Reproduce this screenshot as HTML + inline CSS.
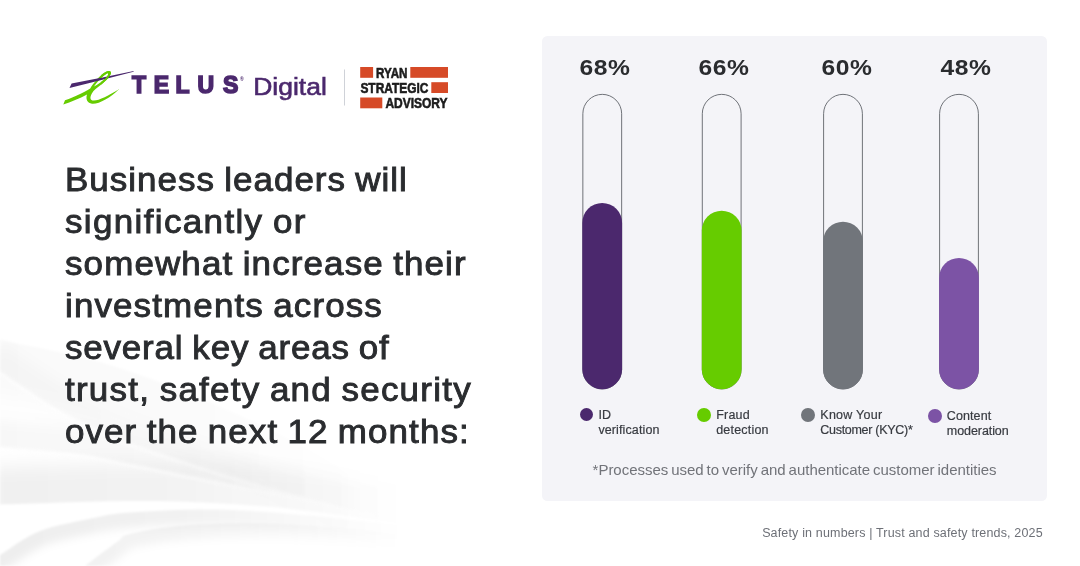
<!DOCTYPE html>
<html lang="en">
<head>
<meta charset="utf-8">
<title>Safety in numbers | Trust and safety trends, 2025</title>
<style>
  html, body { margin: 0; padding: 0; }
  body { width: 1080px; height: 566px; position: relative; overflow: hidden; background: #ffffff;
         font-family: "Liberation Sans", Arial, Helvetica, sans-serif; color: #2a2c2f; }
  .abs { position: absolute; }
  #bg { left: 0; top: 0; width: 1080px; height: 566px; filter: blur(0.8px); }
  #logos { left: 0; top: 0; width: 540px; height: 140px; }
  h1 { position: absolute; left: 65.3px; top: 159.4px; margin: 0; font-weight: 400; font-size: 33px; line-height: 42px;
       color: #2a2c2f; -webkit-text-stroke: 0.9px #2a2c2f; white-space: nowrap; }
  h1 span { display: block; height: 42px; transform: scaleX(1.06); transform-origin: 0 0; word-spacing: -1.4px; }
  #panel { left: 542px; top: 36px; width: 505px; height: 465px; background: #f4f4f8; border-radius: 5.5px; }
  .pct { position: absolute; top: 54.2px; width: 80px; text-align: center; font-weight: 700; font-size: 21.8px; line-height: 28px; color: #2a2c2f; letter-spacing: 0.5px; transform: scaleX(1.13); }
  .leg { position: absolute; font-size: 12.5px; line-height: 15px; color: #383b41; white-space: nowrap; -webkit-text-stroke: 0.2px #383b41; }
  .dot { position: absolute; width: 13.8px; height: 13.8px; border-radius: 50%; }
  #note { left: 592.6px; top: 460px; font-size: 15px; line-height: 20px; color: #717379; white-space: nowrap; letter-spacing: -0.02px; word-spacing: -1.2px; }
  #src { right: 37.2px; top: 524.4px; font-size: 12.5px; line-height: 18px; color: #6d7077; white-space: nowrap; letter-spacing: 0.16px; }
</style>
</head>
<body>
<svg id="bg" class="abs" viewBox="0 0 1080 566">
  <defs>
  <filter id="bl1" filterUnits="userSpaceOnUse" x="-60" y="250" width="700" height="400"><feGaussianBlur stdDeviation="1"/></filter>
  <filter id="bl4" filterUnits="userSpaceOnUse" x="-60" y="250" width="700" height="400"><feGaussianBlur stdDeviation="4"/></filter>
  <filter id="bl7" filterUnits="userSpaceOnUse" x="-60" y="250" width="700" height="400"><feGaussianBlur stdDeviation="7"/></filter>
  <filter id="bl9" filterUnits="userSpaceOnUse" x="-60" y="250" width="700" height="400"><feGaussianBlur stdDeviation="9"/></filter>
  <filter id="bl12" filterUnits="userSpaceOnUse" x="-60" y="250" width="700" height="400"><feGaussianBlur stdDeviation="12"/></filter>
  <linearGradient id="g_sB" gradientUnits="userSpaceOnUse" x1="0" y1="0" x2="370" y2="0"><stop offset="0" stop-color="#000" stop-opacity="0.022"/><stop offset="0.45" stop-color="#000" stop-opacity="0.018"/><stop offset="1" stop-color="#000" stop-opacity="0"/></linearGradient>
  <clipPath id="c_sB"><path d="M-12.0 336.0 C-10.0 336.7 -18.7 335.7 0.0 340.0 C18.7 344.3 66.7 352.3 100.0 362.0 C133.3 371.7 166.7 384.2 200.0 398.0 C233.3 411.8 273.3 431.0 300.0 445.0 C326.7 459.0 343.3 471.2 360.0 482.0 C376.7 492.8 388.3 502.7 400.0 510.0 C411.7 517.3 425.0 523.3 430.0 526.0 L430.0 600 L-12.0 600 Z"/></clipPath>
  <linearGradient id="g_sA" gradientUnits="userSpaceOnUse" x1="0" y1="0" x2="380" y2="0"><stop offset="0" stop-color="#000" stop-opacity="0.020"/><stop offset="0.45" stop-color="#000" stop-opacity="0.016"/><stop offset="1" stop-color="#000" stop-opacity="0"/></linearGradient>
  <clipPath id="c_sA"><path d="M-12.0 365.0 C-10.0 366.3 -11.2 365.7 0.0 373.0 C11.2 380.3 36.5 398.3 55.0 409.0 C73.5 419.7 87.8 427.5 111.0 437.0 C134.2 446.5 167.7 457.3 194.0 466.0 C220.3 474.7 245.0 482.2 269.0 489.0 C293.0 495.8 319.5 502.2 338.0 507.0 C356.5 511.8 366.3 514.8 380.0 518.0 C393.7 521.2 413.3 524.7 420.0 526.0 L420.0 200 L-12.0 200 Z"/></clipPath>
  <linearGradient id="g_sC" gradientUnits="userSpaceOnUse" x1="0" y1="0" x2="395" y2="0"><stop offset="0" stop-color="#000" stop-opacity="0.030"/><stop offset="0.45" stop-color="#000" stop-opacity="0.024"/><stop offset="1" stop-color="#000" stop-opacity="0"/></linearGradient>
  <clipPath id="c_sC"><path d="M-12.0 447.0 C-10.0 447.2 -15.0 446.7 0.0 448.0 C15.0 449.3 56.3 452.2 78.0 455.0 C99.7 457.8 107.5 460.6 130.0 465.0 C152.5 469.4 185.2 476.2 213.0 481.7 C240.8 487.2 271.5 492.9 297.0 498.0 C322.5 503.1 345.5 507.7 366.0 512.0 C386.5 516.3 411.0 522.0 420.0 524.0 L420.0 200 L-12.0 200 Z"/></clipPath>
  <linearGradient id="g_sD" gradientUnits="userSpaceOnUse" x1="0" y1="0" x2="405" y2="0"><stop offset="0" stop-color="#000" stop-opacity="0.060"/><stop offset="0.45" stop-color="#000" stop-opacity="0.048"/><stop offset="1" stop-color="#000" stop-opacity="0"/></linearGradient>
  <clipPath id="c_sD"><path d="M-12.0 504.5 C-10.0 504.5 -23.7 505.1 0.0 504.5 C23.7 503.9 94.5 501.2 130.0 501.0 C165.5 500.8 185.2 501.6 213.0 503.0 C240.8 504.4 269.2 506.5 297.0 509.4 C324.8 512.3 357.8 517.4 380.0 520.5 C402.2 523.6 421.7 526.8 430.0 528.0 L430.0 200 L-12.0 200 Z"/></clipPath>
  <linearGradient id="g_sE" gradientUnits="userSpaceOnUse" x1="0" y1="0" x2="405" y2="0"><stop offset="0" stop-color="#000" stop-opacity="0.068"/><stop offset="0.45" stop-color="#000" stop-opacity="0.054"/><stop offset="1" stop-color="#000" stop-opacity="0"/></linearGradient>
  <clipPath id="c_sE"><path d="M-12.0 563.0 C-10.0 561.7 -8.5 560.2 0.0 555.0 C8.5 549.8 23.8 537.6 39.0 531.5 C54.2 525.4 75.8 521.7 91.0 518.5 C106.2 515.3 109.7 514.0 130.0 512.5 C150.3 511.0 185.2 509.3 213.0 509.6 C240.8 509.9 269.2 512.2 297.0 514.4 C324.8 516.6 357.8 520.6 380.0 523.0 C402.2 525.4 421.7 528.0 430.0 529.0 L430.0 600 L-12.0 600 Z"/></clipPath>
  <linearGradient id="g_sF" gradientUnits="userSpaceOnUse" x1="0" y1="0" x2="405" y2="0"><stop offset="0" stop-color="#000" stop-opacity="0.056"/><stop offset="0.45" stop-color="#000" stop-opacity="0.045"/><stop offset="1" stop-color="#000" stop-opacity="0"/></linearGradient>
  <clipPath id="c_sF"><path d="M78.0 572.0 C79.2 571.0 78.5 571.0 85.0 566.0 C91.5 561.0 109.5 547.3 117.0 542.0 C124.5 536.7 118.7 536.8 130.0 534.0 C141.3 531.2 161.8 527.2 185.0 525.5 C208.2 523.8 241.2 522.9 269.0 523.5 C296.8 524.1 331.2 527.2 352.0 529.0 C372.8 530.8 381.0 532.5 394.0 534.0 C407.0 535.5 424.0 537.3 430.0 538.0 L430.0 600 L78.0 600 Z"/></clipPath>
  <linearGradient id="g_rA" gradientUnits="userSpaceOnUse" x1="0" y1="0" x2="370" y2="0"><stop offset="0" stop-color="#fff" stop-opacity="0.750"/><stop offset="0.45" stop-color="#fff" stop-opacity="0.600"/><stop offset="1" stop-color="#fff" stop-opacity="0"/></linearGradient>
  <linearGradient id="g_rC" gradientUnits="userSpaceOnUse" x1="0" y1="0" x2="380" y2="0"><stop offset="0" stop-color="#fff" stop-opacity="0.750"/><stop offset="0.45" stop-color="#fff" stop-opacity="0.600"/><stop offset="1" stop-color="#fff" stop-opacity="0"/></linearGradient>
  </defs>
  <g clip-path="url(#c_sB)"><path d="M-12.0 336.0 C-10.0 336.7 -18.7 335.7 0.0 340.0 C18.7 344.3 66.7 352.3 100.0 362.0 C133.3 371.7 166.7 384.2 200.0 398.0 C233.3 411.8 273.3 431.0 300.0 445.0 C326.7 459.0 343.3 471.2 360.0 482.0 C376.7 492.8 388.3 502.7 400.0 510.0 C411.7 517.3 425.0 523.3 430.0 526.0" fill="none" stroke="url(#g_sB)" stroke-width="110" filter="url(#bl12)"/></g>
  <g clip-path="url(#c_sA)"><path d="M-12.0 365.0 C-10.0 366.3 -11.2 365.7 0.0 373.0 C11.2 380.3 36.5 398.3 55.0 409.0 C73.5 419.7 87.8 427.5 111.0 437.0 C134.2 446.5 167.7 457.3 194.0 466.0 C220.3 474.7 245.0 482.2 269.0 489.0 C293.0 495.8 319.5 502.2 338.0 507.0 C356.5 511.8 366.3 514.8 380.0 518.0 C393.7 521.2 413.3 524.7 420.0 526.0" fill="none" stroke="url(#g_sA)" stroke-width="50" filter="url(#bl7)"/></g>
  <g clip-path="url(#c_sC)"><path d="M-12.0 447.0 C-10.0 447.2 -15.0 446.7 0.0 448.0 C15.0 449.3 56.3 452.2 78.0 455.0 C99.7 457.8 107.5 460.6 130.0 465.0 C152.5 469.4 185.2 476.2 213.0 481.7 C240.8 487.2 271.5 492.9 297.0 498.0 C322.5 503.1 345.5 507.7 366.0 512.0 C386.5 516.3 411.0 522.0 420.0 524.0" fill="none" stroke="url(#g_sC)" stroke-width="56" filter="url(#bl7)"/></g>
  <g clip-path="url(#c_sD)"><path d="M-12.0 504.5 C-10.0 504.5 -23.7 505.1 0.0 504.5 C23.7 503.9 94.5 501.2 130.0 501.0 C165.5 500.8 185.2 501.6 213.0 503.0 C240.8 504.4 269.2 506.5 297.0 509.4 C324.8 512.3 357.8 517.4 380.0 520.5 C402.2 523.6 421.7 526.8 430.0 528.0" fill="none" stroke="url(#g_sD)" stroke-width="76" filter="url(#bl9)"/></g>
  <path d="M-12.0 365.0 C-10.0 366.3 -11.2 365.7 0.0 373.0 C11.2 380.3 36.5 398.3 55.0 409.0 C73.5 419.7 87.8 427.5 111.0 437.0 C134.2 446.5 167.7 457.3 194.0 466.0 C220.3 474.7 245.0 482.2 269.0 489.0 C293.0 495.8 319.5 502.2 338.0 507.0 C356.5 511.8 366.3 514.8 380.0 518.0 C393.7 521.2 413.3 524.7 420.0 526.0" fill="none" stroke="url(#g_rA)" stroke-width="3" filter="url(#bl1)"/>
  <path d="M-12.0 447.0 C-10.0 447.2 -15.0 446.7 0.0 448.0 C15.0 449.3 56.3 452.2 78.0 455.0 C99.7 457.8 107.5 460.6 130.0 465.0 C152.5 469.4 185.2 476.2 213.0 481.7 C240.8 487.2 271.5 492.9 297.0 498.0 C322.5 503.1 345.5 507.7 366.0 512.0 C386.5 516.3 411.0 522.0 420.0 524.0" fill="none" stroke="url(#g_rC)" stroke-width="3" filter="url(#bl1)"/>
  <g clip-path="url(#c_sF)"><path d="M78.0 572.0 C79.2 571.0 78.5 571.0 85.0 566.0 C91.5 561.0 109.5 547.3 117.0 542.0 C124.5 536.7 118.7 536.8 130.0 534.0 C141.3 531.2 161.8 527.2 185.0 525.5 C208.2 523.8 241.2 522.9 269.0 523.5 C296.8 524.1 331.2 527.2 352.0 529.0 C372.8 530.8 381.0 532.5 394.0 534.0 C407.0 535.5 424.0 537.3 430.0 538.0" fill="none" stroke="url(#g_sF)" stroke-width="28" filter="url(#bl4)"/></g>
  <g clip-path="url(#c_sE)"><path d="M-12.0 563.0 C-10.0 561.7 -8.5 560.2 0.0 555.0 C8.5 549.8 23.8 537.6 39.0 531.5 C54.2 525.4 75.8 521.7 91.0 518.5 C106.2 515.3 109.7 514.0 130.0 512.5 C150.3 511.0 185.2 509.3 213.0 509.6 C240.8 509.9 269.2 512.2 297.0 514.4 C324.8 516.6 357.8 520.6 380.0 523.0 C402.2 525.4 421.7 528.0 430.0 529.0" fill="none" stroke="url(#g_sE)" stroke-width="30" filter="url(#bl4)"/></g>
</svg>

<svg id="logos" class="abs" viewBox="0 0 540 140">
  <!-- TELUS mark -->
  <defs><clipPath id="tc"><rect x="101" y="60" width="20" height="30"/></clipPath></defs>
  <path d="M63.3 104.4 L65 100.3 C75 96.6 84 92.3 90.2 88.4 C94 82.5 100 75 105.6 72 C108.2 70.5 110.8 70.6 111 72.6 C111.2 75.2 107 80.2 101 84.8 C97 87.8 93.6 90.2 92 93.2 C90 96.8 89.8 99.4 92.4 100.4 C96.8 101.8 108 96 118.9 89.3 C110.4 97.8 98.4 104.6 92 103.8 C87.4 103.2 85.4 99.4 87 94.6 C79.4 98.6 71 102.2 63.3 104.4 Z M94 86.6 C97.2 82.2 102 76.6 106.4 73.8 C107.9 72.9 108.6 73.5 108 74.9 C106.2 78.6 100.4 82.8 94 86.6 Z" fill="#66cc00" fill-rule="evenodd"/>
  <path d="M69.5 87.9 L71.6 83.5 C92 79.6 113 75.2 133.7 70.9 L133.5 71.7 C112 77.4 91 82.8 69.5 87.9 Z" fill="#4b286d"/>
  <path d="M63.3 104.4 L65 100.3 C75 96.6 84 92.3 90.2 88.4 C94 82.5 100 75 105.6 72 C108.2 70.5 110.8 70.6 111 72.6 C111.2 75.2 107 80.2 101 84.8 C97 87.8 93.6 90.2 92 93.2 C90 96.8 89.8 99.4 92.4 100.4 C96.8 101.8 108 96 118.9 89.3 C110.4 97.8 98.4 104.6 92 103.8 C87.4 103.2 85.4 99.4 87 94.6 C79.4 98.6 71 102.2 63.3 104.4 Z M94 86.6 C97.2 82.2 102 76.6 106.4 73.8 C107.9 72.9 108.6 73.5 108 74.9 C106.2 78.6 100.4 82.8 94 86.6 Z" fill="#66cc00" fill-rule="evenodd" clip-path="url(#tc)"/>
  <text x="131.9 153.7 175.4 197.4 222.9" y="89.0" transform="scale(1,1.05)" font-family="Liberation Sans, Arial, sans-serif" font-weight="700" font-size="23" fill="#4b286d" stroke="#4b286d" stroke-width="1.6" stroke-linejoin="miter">TELUS</text>
  <text x="239.9" y="81.2" font-family="Liberation Sans, Arial, sans-serif" font-weight="700" font-size="5" fill="#4b286d">®</text>
  <text x="253.2" y="94.7" font-family="Liberation Sans, Arial, sans-serif" font-size="24.6" fill="#4b286d" stroke="#4b286d" stroke-width="0.6" textLength="73.6" lengthAdjust="spacingAndGlyphs">Digital</text>
  <rect x="344" y="69.5" width="1" height="36" fill="#cfd2d8"/>
  <!-- Ryan Strategic Advisory -->
  <g fill="#d64a27">
    <rect x="360.2" y="67" width="12.9" height="10.8"/>
    <rect x="410.3" y="67" width="37.7" height="10.8"/>
    <rect x="431.3" y="82.2" width="16.7" height="10.8"/>
    <rect x="360.2" y="97.5" width="22.1" height="10.8"/>
  </g>
  <g font-family="Liberation Sans, Arial, sans-serif" font-weight="700" font-size="14.8" fill="#1c1c1c" stroke="#1c1c1c" stroke-width="0.6">
    <text x="376" y="77.7" textLength="31.5" lengthAdjust="spacingAndGlyphs">RYAN</text>
    <text x="360.4" y="92.9" textLength="68.1" lengthAdjust="spacingAndGlyphs">STRATEGIC</text>
    <text x="385.4" y="108.1" textLength="62.2" lengthAdjust="spacingAndGlyphs">ADVISORY</text>
  </g>
</svg>

<h1>
  <span style="letter-spacing:0.95px">Business leaders will</span>
  <span style="letter-spacing:1.28px">significantly or</span>
  <span style="letter-spacing:1.05px">somewhat increase their</span>
  <span style="letter-spacing:1.05px">investments across</span>
  <span style="letter-spacing:0.75px">several key areas of</span>
  <span style="letter-spacing:1.17px">trust, safety and security</span>
  <span style="letter-spacing:1.01px">over the next 12 months:</span>
</h1>

<div id="panel" class="abs"></div>

<svg id="chart" class="abs" style="left:542px;top:36px;width:505px;height:465px" viewBox="542 36 505 465">
  <g fill="none" stroke="#686b72" stroke-width="0.95">
    <rect x="582.85" y="94.35" width="38.8" height="294.6" rx="19.4"/>
    <rect x="702.3" y="94.35" width="38.8" height="294.6" rx="19.4"/>
    <rect x="823.6" y="94.35" width="38.8" height="294.6" rx="19.4"/>
    <rect x="939.6" y="94.35" width="38.8" height="294.6" rx="19.4"/>
  </g>
  <rect x="582.3" y="203" width="39.8" height="186.2" rx="19.9" fill="#4b286d"/>
  <rect x="701.8" y="210.7" width="39.8" height="178.5" rx="19.9" fill="#66cc00"/>
  <rect x="823.1" y="221.7" width="39.8" height="167.5" rx="19.9" fill="#71757b"/>
  <rect x="939.1" y="258" width="39.8" height="131.2" rx="19.9" fill="#7c53a5"/>
</svg>

<div class="pct" style="left:565.1px">68%</div>
<div class="pct" style="left:683.7px">66%</div>
<div class="pct" style="left:807px">60%</div>
<div class="pct" style="left:926.4px">48%</div>

<div class="dot" style="left:579.50px;top:407.70px;background:#4b286d"></div>
<div class="leg" style="left:598.4px;top:408.40px;letter-spacing:0.12px">ID<br>verification</div>
<div class="dot" style="left:697.10px;top:408.20px;background:#66cc00"></div>
<div class="leg" style="left:716.2px;top:408.40px;letter-spacing:0.2px">Fraud<br>detection</div>
<div class="dot" style="left:801.00px;top:408.10px;background:#71757b"></div>
<div class="leg" style="left:820.3px;top:408.40px;letter-spacing:-0.29px"><span style="letter-spacing:0.26px">Know Your</span><br>Customer (KYC)*</div>
<div class="dot" style="left:927.80px;top:408.80px;background:#7c53a5"></div>
<div class="leg" style="left:946.8px;top:408.60px;letter-spacing:-0.07px"><span style="letter-spacing:0.1px">Content</span><br>moderation</div>

<div id="note" class="abs">*Processes used to verify and authenticate customer identities</div>
<div id="src" class="abs">Safety in numbers | Trust and safety trends, 2025</div>
</body>
</html>
